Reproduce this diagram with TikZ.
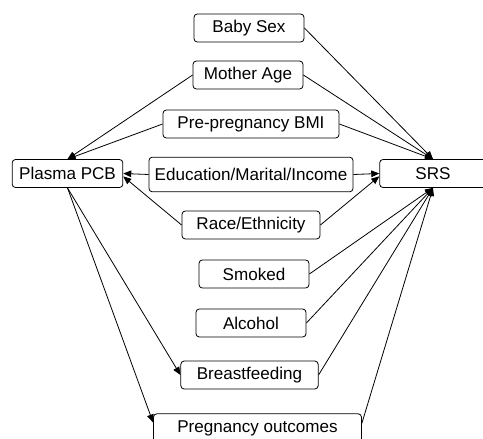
\documentclass[tikz,border=0pt]{standalone}
\usepackage{fontspec}
\setmainfont{Liberation Sans}
\usetikzlibrary{arrows.meta}
\begin{document}
\begin{tikzpicture}[x=0.75pt, y=-0.75pt, line width=0.6pt,
  every node/.style={draw, rounded corners=2.5pt, minimum height=21pt, inner sep=0pt, font=\fontsize{12.8}{15}\selectfont},
  arr/.style={-{Triangle[length=6pt,width=5pt]}}]
\useasboundingbox (0,0) rectangle (483,439);
\node[minimum width=82.5pt] (babysex) at (249, 28) {Baby Sex};
\node[minimum width=82.5pt] (motherage) at (248, 75) {Mother Age};
\node[minimum width=132pt] (bmi) at (251, 124) {Pre-pregnancy BMI};
\node[minimum width=83pt] (pcb) at (67.5, 173.5) {Plasma PCB};
\node[minimum width=153pt, minimum height=26pt] (edu) at (251, 174.5) {Education/Marital/Income};
\node[minimum width=80pt] (srs) at (433, 173.5) {SRS};
\node[minimum width=103.5pt] (race) at (251, 225) {Race/Ethnicity};
\node[minimum width=82.5pt] (smoked) at (254, 274) {Smoked};
\node[minimum width=82.5pt] (alcohol) at (251, 323) {Alcohol};
\node[minimum width=103pt] (bf) at (249.5, 375) {Breastfeeding};
\node[minimum width=156pt, minimum height=22pt] (po) at (257.5, 428.5) {Pregnancy outcomes};
\draw[arr] (babysex.east) -- (srs.north);
\draw[arr] (motherage.east) -- (srs.north);
\draw[arr] (bmi.east) -- (srs.north);
\draw[arr] (motherage.west) -- (pcb.north);
\draw[arr] (bmi.west) -- (pcb.north);
\draw[arr] (edu.west) -- (pcb.east);
\draw[arr] (edu.east) -- (srs.west);
\draw[arr] (race.west) -- (pcb.-3);
\draw[arr] (race.east) -- (srs.183);
\draw[arr] (smoked.east) -- (srs.south);
\draw[arr] (alcohol.east) -- (srs.south);
\draw[arr] (bf.east) -- (srs.south);
\draw[arr] ([yshift=4pt]po.east) -- (srs.south);
\draw[arr] (pcb.south) -- (bf.west);
\draw[arr] (pcb.south) -- ([yshift=4.5pt]po.west);
\end{tikzpicture}
\end{document}
